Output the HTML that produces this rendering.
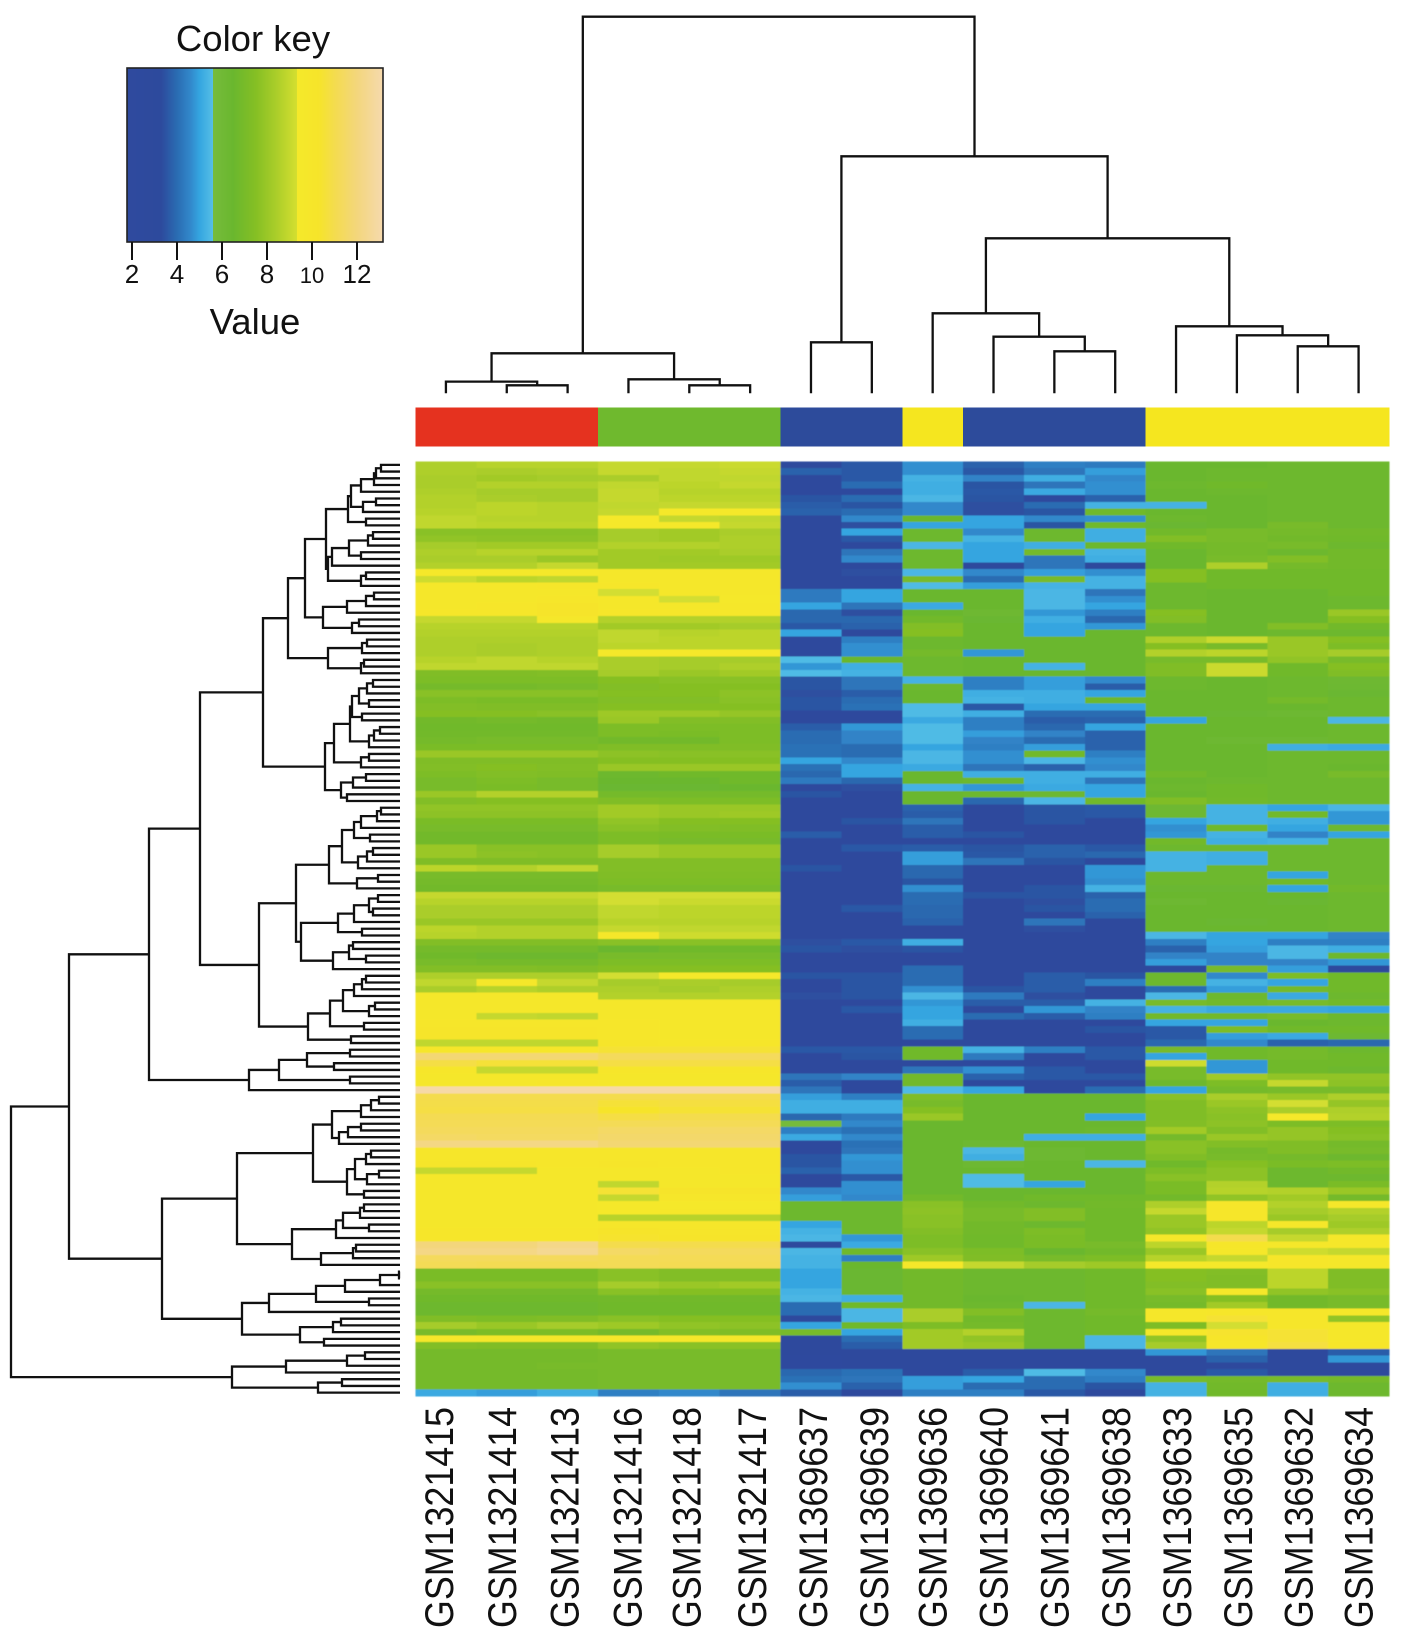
<!DOCTYPE html>
<html lang="en">
<head>
<meta charset="utf-8">
<title>Clustered expression heatmap</title>
<style>
html,body{margin:0;padding:0;background:#fff;width:1408px;height:1645px;overflow:hidden}
svg{display:block}
text{font-family:"Liberation Sans",sans-serif;fill:#111}
</style>
</head>
<body>
<svg id="chart" xmlns="http://www.w3.org/2000/svg" width="1408" height="1645" viewBox="0 0 1408 1645">
<defs><filter id="soft" x="-1%" y="-1%" width="102%" height="102%"><feGaussianBlur stdDeviation="0.6"/></filter></defs>
<rect width="1408" height="1645" fill="#fff"/>
<g id="key"></g>
<g id="topDendro"></g>
<g id="sideBar"></g>
<g id="leftDendro"></g>
<g id="cells" shape-rendering="crispEdges" filter="url(#soft)"></g>
<g id="labels"></g>
</svg>
<script>
const columnLabels = ["GSM1321415","GSM1321414","GSM1321413","GSM1321416","GSM1321418","GSM1321417","GSM1369637","GSM1369639","GSM1369636","GSM1369640","GSM1369641","GSM1369638","GSM1369633","GSM1369635","GSM1369632","GSM1369634"];
const columnGroups = [0,0,0,1,1,1,2,2,3,2,2,2,3,3,3,3];
const groupNames = ["red","green","blue","yellow"];
const keyTicks = [2,4,6,8,10,12];
const keyTitle = "Color key";
const keyAxisTitle = "Value";
const columnTree = [376.6,[40,[11.7,0,[8,0,0]],[14,0,[8,0,0]]],[237,[51,0,0],[155,[80,0,[56.6,0,[42,0,0]]],[67,0,[58,0,[47,0,0]]]]]];
const rowTree = [389,
 [331,
  [251,
   [200,
    [137,
     [112,
      [95,
       [74,
        [52,
         [49,[39,[26,[24,[19,0,0],0],0],0],[37,[24,0,0],0]],
         [34,0,0]],
        [72,
         [68,[51,[32,[27,0,0],0],[39,0,0]],0],
         [39,[34,0,0],0]]],
       [77,[53,[34,[26,0,0],0],0],[48,[41,0,0],0]]],
      [72,[38,[33,0,0],0],[39,[36,0,0],0]]],
     [75,
      [66,
       [50,[48,[41,[33,[27,0,0],0],[31,0,0]],[38,0,0]],[31,[26,[20,0,0],0],0]],
       [39,[31,0,0],0]],
      [59,[47,[34,0,0],0],[53,0,0]]]],
    [141,
     [104,
      [71,[58,[46,[39,[23,[19,0,0],0],0],[30,0,0]],[42,[33,[27,0,0],0],0]],[43,[22,0,0],0]],
      [99,[62,[46,[31,[22,0,0],[27,0,0]],0],[38,0,0]],[67,[51,[47,0,0],[34,0,0]],0]]],
     [92,[70,[57,[46,[38,[34,0,0],0],0],[31,[25,0,0],0]],[36,0,0]],[49,0,0]]]],
   [151,[121,[93,[50,0,0],[66,0,0]],[50,0,0]],0]],
  [238,
   [163,
    [87,
     [68,[39,[29,[21,0,0],0],0],[61,[52,[39,0,0],0],0]],
     [53,[45,[34,[29,0,0],0],[33,[21,0,0],0]],[36,0,0]]],
    [108,
     [64,[57,[40,[36,0,0],0],[31,0,0]],0],
     [79,[47,[44,0,0],0],0]]],
   [158,
    [131,[84,[55,[20,[1,0,0],0],0],[31,0,0]],0],
    [100,[67,[59,0,0],0],[76,0,0]]]]],
 [168,[114,[53,[35,0,0],0],0],[82,[58,0,0],0]]];
const heatmapValues = [
[8.5,8.7,8.7,9,9,9.1,3.3,3.6,4.7,3.8,4.4,4.3,6.5,6.5,6.6,6.6],
[8.5,8.4,8.5,9,8.9,9,3.8,3.6,4.7,3.6,4.2,4.9,6.5,6.6,6.6,6.6],
[8.4,8.2,8.3,8.4,8.9,8.9,3.2,3.6,5.3,4.5,5.2,4.6,6.5,6.6,6.6,6.6],
[8.4,8.6,8.6,8.9,8.8,9,3.2,4,5.2,3.5,4.2,4.7,6.6,6.7,6.6,6.6],
[8.5,8.3,8.3,9,8.7,8.7,3.1,3.2,5.2,3.6,5.1,4.7,6.5,6.6,6.6,6.6],
[8.6,8.4,8.3,9,8.8,8.8,3.5,4,5.4,3.5,3.1,3.8,6.5,6.5,6.6,6.6],
[8.6,8.8,8.7,8.9,9,9,3.7,3.5,4.6,3.4,4,5.3,5.3,6.5,6.6,6.6],
[8.7,8.8,8.7,9,9.5,9.5,3.8,4,4.6,3.4,3.5,6.7,6.5,6.5,6.6,6.6],
[8.9,8.7,8.7,9.6,9,8.9,3.2,4.6,6.5,5,4.6,4.7,6.6,6.5,6.6,6.6],
[8.9,8.8,8.8,9.6,9.6,9,3.2,3.4,5,5,3.5,6.7,6.4,6.5,7,6.6],
[7.6,7.6,7.6,8.3,8.2,8.4,3.2,5,6.6,4.6,6.6,5.2,6.8,7,6.9,6.8],
[7.8,7.7,7.7,8.3,8.2,8.5,3.2,3.6,6.6,5.3,6.6,5.2,7.4,7,6.8,6.7],
[8.3,8.2,8.2,8.6,8.6,8.5,3.2,3.2,5.4,5,5.2,6.6,6.7,6.9,7,6.6],
[8.5,8.7,8.7,8.2,8.2,8.4,3.2,4.2,6.6,5,6.9,5.3,6.5,6.9,6.6,6.8],
[8.4,8.4,8,8.2,8.1,8.1,3.3,4.6,6.6,5,4.2,5.2,6.5,7,7.4,6.8],
[8.6,8.6,9,8.2,8.2,8.2,3.2,3.2,6.6,3.2,4.2,3,6.5,8.5,6.9,6.8],
[9.5,9.5,9.5,9.7,9.7,9.7,3.1,3.4,5.4,4.6,4.9,4.7,7.5,6.7,6.7,6.7],
[9.2,8.8,8.9,9.7,9.7,9.7,3.1,3.1,7,4,7,5.3,7.5,6.7,6.7,6.7],
[9.8,9.8,9.9,9.9,9.8,9.8,3.1,3.2,5.5,4.9,5.3,5.3,6.6,6.7,6.7,6.7],
[9.8,9.8,9.8,9.3,9.8,9.8,4.3,5,6.5,6.5,5.4,4.2,6.6,6.5,6.5,6.7],
[9.8,9.8,9.9,9.7,9.3,9.5,4.3,5,6.5,6.5,5.4,4.7,6.6,6.5,6.5,6.6],
[9.8,10,10.3,9.7,9.7,9.7,5,4.2,5.1,6.5,5.4,5,6.6,6.5,6.5,6.6],
[10,10,10.3,9.9,9.9,9.8,3.9,3.4,6.5,6.2,4.8,4.4,7.5,6.5,6.5,8],
[9,9,9.8,8.6,8.6,8.6,3.9,3.9,6.8,6.4,5.2,3.9,7.4,6.5,6.5,7.5],
[8.7,8.7,8.7,8.2,8.2,8.3,3.6,3.8,7.4,6.5,5,4.8,6.6,6.5,7.4,6.8],
[8.6,8.6,8.6,8.9,8.7,8.8,5,3.2,7.5,6.5,5,6.5,6.6,6.5,6.6,6.6],
[8.5,8.5,8.5,8.9,8.8,8.8,3.2,4.4,6.6,6.5,6.5,6.5,8.5,9.1,8,7.5],
[8.5,8.4,8.5,8.8,8.8,8.8,3.2,4.7,6.6,6.5,6.5,6.5,7.5,7,8,7.2],
[8.5,8.4,8.5,9.6,9.6,9.6,3.2,4.7,6.9,4.8,6.5,6.5,8.6,8.8,8,8.3],
[8.7,8.9,8.7,8.4,8.3,8.3,5.5,6.5,6.6,6.5,6.5,6.5,7,7,7.8,7],
[8.9,8.9,8.9,8.4,8.3,8.5,4.8,5.2,6.6,6.5,5.3,6.5,7.3,9.1,6.7,7.5],
[7.3,7.3,7.4,8.3,8,8.2,5.5,5.3,6.6,6.5,6.5,6.5,7.3,9.1,6.7,7.3],
[7.2,7.2,7.2,7.5,7.6,7.6,3.5,4.2,5.3,4.4,4.9,4.6,6.6,6.5,6.6,6.2],
[6.9,6.9,7,7.4,7.5,7.5,3.5,4.2,6.6,4.4,4.9,3.7,6.6,6.5,6.6,6.3],
[7.6,7.6,7.6,7.5,7.5,7.7,3.4,3.7,6.5,5.2,5.2,5,6.5,6.5,6.6,6.4],
[7.2,7.1,7.1,7.4,7.4,7.6,3.5,4,6.5,5.3,5.2,6.6,6.5,6.5,6.9,6.6],
[7.4,7.3,7.3,7.5,7.5,7.5,3.5,4.1,5.5,3.6,5,5,6.5,6.5,6.5,6.6],
[7.5,7.5,7.6,8.1,8.1,7.9,3.3,3,5.5,5.2,4,4,6.5,6.4,6.3,6.6],
[6.8,6.9,6.8,8,7.4,7.4,3.1,3.1,5.1,4.4,3.7,3.8,5,6.5,6.5,5.4],
[6.7,6.7,6.7,7.2,7.2,7.2,3.7,4.8,5.5,4.4,3.9,5,6.5,6.5,6.5,6.6],
[6.8,6.8,6.8,7.2,7.1,7.2,4,4.5,5.5,4.9,4.5,3.8,6.5,6.5,6.5,6.6],
[6.9,7,7,6.8,6.8,7.2,4,4.5,5.5,4.5,4,3.8,6.5,6.3,6.3,6.6],
[7.1,7.1,7.1,7.3,7.3,7.3,4.1,4,5,4.4,4.9,3.8,6.5,6.5,5.2,5.1],
[8,8,8,7.7,7.6,7.6,4.1,4,5.4,4.7,6.8,4.4,6.5,6.5,6.6,6.6],
[7.3,7.3,7.3,7.5,7.5,7.5,5,4.6,5.4,4.7,5.4,4.7,6.5,6.5,6.6,6.6],
[7.4,7.5,7.4,8,8,8,4.1,5,5.1,4.2,3.8,4.6,6.5,6.5,6.6,6.5],
[7.2,7.4,7.3,6.6,6.7,6.7,3.9,5,6.5,5.2,5.2,5.2,6.8,6.5,6.6,7],
[7,7.2,7,6.5,6.5,6.7,4.3,3.9,6.5,6.6,5.2,4.2,6.5,6.6,6.6,6.6],
[7,7.1,7,6.4,6.4,6.5,3.2,3.4,5.3,4.8,5.1,5,6.6,6.7,6.6,6.6],
[8,8.6,8.6,6.9,6.9,6.9,3.5,3.1,6.5,6.6,6.3,5,6.5,6.7,6.6,6.6],
[7.4,7.5,7.5,7.3,7.2,7.2,3.1,3.1,6.5,3.9,5.4,6.8,7.3,6.8,6.6,6.6],
[7.8,7.8,7.8,8.2,8,8,3.1,3.1,3.8,3.3,3.5,3.6,6.2,5.3,5,5.4],
[7.7,7.7,7.7,8.2,8,8.1,3.1,3.1,3.7,3.3,3.5,3.6,6.2,5.3,6.8,4.8],
[7.1,7.1,7.1,7.8,7.5,7.5,3.1,3.5,4.2,3.3,3.5,3.2,5,5.3,5.2,4.8],
[7,7,7,7.6,7.4,7.3,3.1,3.1,3.7,3.3,3.1,3.3,4.7,6.7,5,6.3],
[6.8,6.8,6.8,7.2,7.1,7.1,3.7,3.1,3.7,3.5,3.3,3.1,4.8,5.3,4.5,5],
[6.8,6.8,6.8,7.2,7,7,3.3,3.2,3.3,3.2,3.3,3.1,6.8,5.2,5.3,6.6],
[8,7.6,7.6,8.3,8,8,3.2,3.6,3.7,3.5,3.8,3.6,6.6,6.6,6.6,6.6],
[8,7.7,7.6,8.3,8,8,3.2,3.2,4.9,3.6,3.8,3.9,5.3,5.2,6.6,6.6],
[7.3,7.3,7.3,7.4,7.4,7.4,3.2,3.3,4.9,4.2,3.5,3,5.3,5.2,6.6,6.6],
[8.8,8.6,8.9,7.4,7.4,7.4,3.5,3.2,3.9,3.3,3.3,4.8,5.3,6.6,6.6,6.6],
[7,7,7,7.3,7.3,7.3,3.2,3.2,3.9,3.3,3.3,4.8,6.6,6.6,5,6.6],
[6.9,6.9,6.9,7.2,7.2,7.2,3.2,3.3,3.5,3.2,3.3,4.7,6.6,6.6,6.8,6.6],
[6.8,6.8,6.8,7,7,7,3.2,3.3,4.7,3.2,3.5,5.3,6.4,6.4,5,6.8],
[9,9,9,9.3,9.3,9.3,3.2,3.3,4,3.5,3.5,3.8,6.5,6.5,6.5,6.6],
[8.7,8.7,8.7,9.3,9.1,9.1,3.2,3.3,4,3.3,3.4,4,6.3,6.5,6.4,6.6],
[8.4,8.4,8.4,8.9,8.8,8.8,3.2,3.6,3.9,3,3.5,4,6.5,6.5,6.5,6.6],
[8.4,8.4,8.4,8.9,8.8,8.8,3.2,3.2,3.9,3.1,3.2,3.8,6.5,6.5,6.5,6.6],
[8,8,8,8.7,8.7,8.7,3.2,3.3,3.8,3.1,4.2,3.1,6.5,6.4,6.5,6.6],
[8.8,8.6,8.6,9,8.9,8.9,3.2,3.2,3.2,3.1,3.4,3.3,6.5,6.5,6.5,6.6],
[8.7,8.6,8.6,9.7,9.2,9.2,3.2,3.2,3.2,3.1,3.2,3.1,5.4,5,5,4.5],
[7.4,7.4,7.4,7.6,7.6,7.6,3.4,3.6,5.2,3.1,3.2,3,4.4,5,4.4,4.4],
[6.9,6.9,6.9,6.5,6.7,6.7,3.5,3.4,3.5,3.1,3.1,3,3.8,4.9,5.4,5.2],
[6.7,6.6,6.6,7,7,7,3.1,3.1,3.2,3.1,3.1,3,4.5,4.5,5.4,6.6],
[7,6.9,6.9,7.2,7.2,7.2,3.1,3.1,3.2,3.1,3.1,3,4.9,4.5,4.5,4.8],
[7.4,7.4,7.3,7.5,7.5,7.5,3.1,3.1,4,3.1,3.1,3,3.3,7,4.9,3.3],
[8.5,8.5,8.5,9.3,9.5,9.5,3.5,3.5,4,3.2,3.7,3.5,6.6,4.6,7.2,6.7],
[8.9,9.7,9,8.3,8.4,8.3,3.1,3.5,4,3.3,3.7,4.4,6.6,5.3,5,6.7],
[8.4,8.7,8.5,8.5,8.3,8.5,3.3,3.5,4.7,3.5,3.7,3.3,4,4.9,6.9,6.7],
[9.7,9.7,9.7,8.6,8.6,8.6,3.4,3.5,5.4,4.3,3.4,3,5.4,6.6,5.1,6.6],
[9.8,9.8,9.8,9.8,9.8,9.8,3.2,3.2,4.8,3.7,3.7,5.3,7,6.8,7,6.8],
[9.8,9.8,9.8,9.8,9.7,9.7,3.2,3.6,5,3.3,4.8,4.5,5.3,5.1,5.1,5],
[9.8,9,8.9,9.8,9.7,9.7,3.2,3.2,5,4,3.7,4.4,6.8,6.8,7,6.6],
[10,10,10,9.9,9.8,9.8,3.3,3.2,5.2,3.1,3.1,3.1,5,5,6.5,6.6],
[10.2,10.2,10.2,9.9,9.8,9.8,3.1,3.1,4,3,3,3.5,3.6,7.2,6.7,6.7],
[10.1,10.1,10.1,10,9.8,9.8,3.1,3.1,4,3,3,3.1,3.6,4.9,5.1,6.3],
[8.9,8.9,8.9,10.1,9.9,9.9,3.1,3.1,3.3,3,3,3,3.9,4.6,3.8,3.9],
[10,10,10,10.5,10.5,10.5,3.6,3.6,6.7,5.3,4.4,3.6,7,6.7,6.9,6.6],
[11.8,11.8,11.8,11.3,11.3,11.3,3,3.5,6.7,4.3,3,3.6,5,6.7,6.9,6.7],
[10.8,10.6,10.6,10.8,10.8,10.8,3,3.2,3.2,3,3,3,9.2,4.8,6.7,6.7],
[9.9,9,9,10,10,10,3.1,3.2,4.2,4.7,3.6,3,7,4.8,6.7,6.6],
[9.8,9.8,9.8,9.8,9.8,9.8,4.2,4.5,6.8,3.8,3.6,3.6,7,8.2,7.8,7.8],
[9.8,9.8,9.9,9.8,9.8,9.8,3.7,3.3,6.8,3.3,3.1,3,6.6,7.2,9,7.7],
[13,13,13,13,13,13,4.2,3.3,5.5,5,3.2,4,5,6.9,7,7],
[11,11,11,11,11,11,4.9,4.4,7.3,6.5,6.5,6.5,7.6,8.4,8,8.5],
[10.9,10.9,10.9,10.6,10.7,10.7,5.2,5.2,7,6.5,6.5,6.5,7.3,8,9.3,7.9],
[10.8,10.8,10.8,10.3,10.5,10.5,5.2,5.2,7.5,6.5,6.5,6.5,7.3,7.7,8.4,8.5],
[11.1,11.1,11.1,10.8,11,11,3.9,4.3,8,6.5,6.5,5,7.3,7.6,9.6,8.6],
[11.2,11.2,11.2,11.2,11.2,11.2,5.7,4.6,6.5,6.5,6.5,6.5,7.4,7.7,7.2,7.2],
[11.3,11.3,11.3,11.5,11.5,11.5,4.4,4.1,6.5,6.5,6.5,6.6,8.2,7.4,7.9,7.5],
[11.5,11.4,11.4,11.6,11.6,11.6,5.1,4.6,6.5,6.5,5.2,5.2,6.9,8,7.9,7.6],
[12.2,12.2,12.2,11.8,11.8,11.8,3.2,4.1,6.5,6.3,6.5,6.5,7.6,7.4,7.3,6.9],
[9.9,9.9,9.9,10,10,10,3.2,4.2,6.5,5.4,6.3,6.5,7.6,6.9,7.3,7],
[9.9,9.9,9.9,10,10,10,3.5,4.8,6.5,5.2,6.3,6.5,7.3,7,6.9,6.6],
[10.2,10.1,10,10.2,10,10,3.5,4.7,6.5,6.3,6.5,5.4,6.7,7.5,7.1,7.2],
[9,9,9.8,9.8,9.8,9.9,3.8,4.7,6.5,6.5,6.5,6.5,7.2,7.7,6.6,6.8],
[9.7,9.7,9.7,9.8,9.8,9.7,3.2,3.6,6.5,5.5,6.5,6.5,7.6,7.7,6.6,6.6],
[9.8,9.8,9.8,8.9,9.7,9.7,3.3,4.7,6.5,5.5,5,6.5,7.1,8.6,6.6,7.1],
[9.8,9.8,9.8,10.5,10.3,10.3,4.6,4.7,6.5,6.5,6.5,6.5,7.1,8.7,8.6,8],
[9.8,9.8,9.8,9,10,10,4.9,4.6,6.8,6.5,6.7,6.7,6.8,7.8,8.2,6.9],
[9.7,9.7,9.7,9.6,9.5,9.5,6.6,6.6,7.6,6.8,6.6,6.8,8.5,10,8.6,9.7],
[9.7,9.8,9.8,9.6,9.7,9.7,6.6,6.6,7.7,7,7.4,6.7,9,10,8.3,8.6],
[9.8,9.8,9.8,8.7,8.7,8.7,6.6,6.6,7.6,7,7.4,6.7,8,10,8,8.3],
[9.8,9.8,9.8,10,10,10,5,6.6,7.6,6.8,6.6,6.7,8,8.8,9.7,8.1],
[9.9,9.9,9.9,10.3,10.2,10.2,5.3,6.6,7.4,6.8,7.2,6.7,7.8,9,8.3,8.5],
[10,10,10,10.4,10.3,10.3,5.4,4.8,7.2,6.7,7.1,6.7,9.7,11,9,9.7],
[12,12,12.3,11,11,11,3.3,5.1,7.2,6.7,7.1,7,8.8,10,9.7,9.8],
[12.2,12.2,12.5,11.5,11.3,11.3,5.4,6.7,7.6,7.2,6.5,6.8,8,9.8,9.2,9],
[11.3,11.3,11.3,11.2,11.2,11.2,5.3,4.4,8.1,7.3,7,7.2,8.7,9,10,9.8],
[11.2,11.1,11.1,11.2,11.1,11.1,5.3,6.5,9.7,9,8.3,8.1,9.6,9.5,10,9.8],
[7.1,7.1,7.1,7.6,7.4,7.4,5,6.4,6.8,6.6,6.6,6.7,7.5,7.4,8.8,7.3],
[7.1,7.1,7.1,7.6,7.4,7.4,5,6.4,6.8,6.6,6.6,6.7,7.5,7.3,8.8,7.3],
[7.6,7.6,7.6,8.3,8,8.2,5,6.4,6.8,6.6,6.6,6.7,7.4,7.3,8.8,7.3],
[6.9,6.9,6.9,7.6,7.5,7.5,5.3,6.4,6.8,6.6,6.6,6.7,7.6,9.7,7.8,7.6],
[6.7,6.7,6.7,6.8,6.8,6.8,5.4,5.2,6.8,6.5,6.6,6.7,7,7.5,6.8,7],
[6.6,6.6,6.6,6.7,6.7,6.7,4,6.7,6.8,6.6,5.4,6.7,6.9,8.2,6.8,7],
[6.6,6.6,6.6,6.7,6.7,6.7,4,5.4,8.4,7.4,6.6,6.9,9.7,10,10,9.7],
[7.3,7.2,7.3,7.6,7.5,7.5,3.2,5.4,8.4,6.8,6.6,6.7,9.7,10.5,10,7.8],
[8.3,8,8.3,8.1,7.8,7.7,5,6.7,7.2,6.9,6.6,6.7,7.2,9.3,10,9.8],
[7,7.2,7.2,6.9,7.4,7.3,7,5,8.2,8.6,6.6,6.7,9.7,10.4,10.5,9.8],
[9.8,9.8,9.8,9.8,9.8,9.8,3,4,8.2,7.8,6.6,5.4,7.8,10.2,10.5,9.8],
[7.4,7.3,7.3,7.8,7.6,7.6,3,3.7,8.2,8,6.6,5.4,8.3,10,10.7,9.9],
[6.9,6.9,6.9,7,7,7,3,3,3,3,3,3,4.8,4.2,3.3,3.7],
[6.9,6.9,6.9,7,7,7,2.5,3,3,3,3,3,3.3,3.8,3.3,4.8],
[6.9,6.9,7,7,7,7,2.5,3,3,3,3,3,3.3,3.2,3.2,3],
[6.9,6.9,6.9,7,7,7,3.9,4.1,3.2,3.7,5.5,4.6,3.3,3.6,3.2,3],
[6.9,6.9,6.9,7,7,7,4.1,4.2,4.9,5,4,4.4,7,6.9,7,6.9],
[6.9,6.9,6.9,7,7,7,4.7,3.8,4.9,4,4,3.5,5.3,6.8,5.2,6.6],
[5.1,4.9,5.2,4.4,4.6,4.2,3.7,3.1,4.4,4.4,3.6,3.3,5.3,6.7,5.2,6.6]
];

const colorStops = [[1.8,"#2f4a9e"],[3.3,"#2d4a9d"],[4,"#2a6cb2"],[4.6,"#3288cb"],[5,"#34a5e0"],[5.6,"#56bfe6"],[5.6,"#76bb3c"],[6.5,"#6ab72e"],[7.5,"#85bf24"],[8.5,"#aecf2a"],[9.35,"#d5df30"],[9.35,"#f5e92a"],[10.3,"#f6e42a"],[11,"#f4dc4e"],[12,"#f3d67c"],[13.2,"#f6dab0"]];
const groupColors = ["#e5321f","#6fb92e","#2d4b9b","#f5e61f"];

const NS = "http://www.w3.org/2000/svg";
const PLOT = {left:415.5, right:1389, top:461.5, bottom:1396};
const columnWidth = (PLOT.right - PLOT.left) / columnLabels.length;
const rowHeight = (PLOT.bottom - PLOT.top) / heatmapValues.length;
const xCol = i => PLOT.left + columnWidth * i;
const yRow = i => PLOT.top + rowHeight * i;
const keyX = v => 132 + (v - 2) * 22.5;
const rowDist = h => 400 - h;
const colDist = h => 393.3 - h;
const labelNudge = c => [-7,-5,-3,-1,-3,2,2,2,0,0,0,1,1,1,1,0][c];

function hex(c){return [1,3,5].map(i=>parseInt(c.substr(i,2),16));}
function colorFor(v){
  if(v<=colorStops[0][0]) return colorStops[0][1];
  for(let i=1;i<colorStops.length;i++){
    const a=colorStops[i-1], b=colorStops[i];
    if(v<b[0]){
      const t=(v-a[0])/((b[0]-a[0])||1), A=hex(a[1]), B=hex(b[1]);
      return "rgb("+A.map((x,k)=>Math.round(x+(B[k]-x)*t)).join(",")+")";
    }
  }
  return colorStops[colorStops.length-1][1];
}
function make(tag,attrs,parent){
  const el=document.createElementNS(NS,tag);
  for(const k in attrs) el.setAttribute(k,attrs[k]);
  parent.appendChild(el);
  return el;
}

/* heatmap cells */
const cellsG=document.getElementById("cells");
heatmapValues.forEach((row,r)=>{
  row.forEach((v,c)=>{
    const el=make("rect",{x:xCol(c).toFixed(2),y:yRow(r).toFixed(2),width:(columnWidth+.4).toFixed(2),height:(rowHeight+.4).toFixed(2),fill:colorFor(v)},cellsG);
    
    
  });
});

/* sample group bar */
const sideG=document.getElementById("sideBar");
columnGroups.forEach((g,c)=>{
  const el=make("rect",{x:xCol(c).toFixed(2),y:407.3,width:(columnWidth+.4).toFixed(2),height:39.4,fill:groupColors[g],"shape-rendering":"crispEdges"},sideG);
  
  
});

/* dendrograms */
function drawTree(tree,parent,leafPos,heightPos,horizontal,name){
  let leaf=0;
  function walk(node){
    if(node===0){return {p:leafPos(leaf++),h:0};}
    const a=walk(node[1]), b=walk(node[2]), h=node[0];
    const d=horizontal
      ? `M${heightPos(a.h)} ${a.p}H${heightPos(h)}V${b.p}H${heightPos(b.h)}`
      : `M${a.p} ${heightPos(a.h)}V${heightPos(h)}H${b.p}V${heightPos(b.h)}`;
    const el=make("path",{d:d,fill:"none",stroke:"#111","stroke-width":2.3,"stroke-linejoin":"miter"},parent);
    
    
    return {p:(a.p+b.p)/2,h:h};
  }
  walk(tree);
}
drawTree(rowTree,document.getElementById("leftDendro"),i=>yRow(i+.5),rowDist,true,"row-dendrogram-branch");
drawTree(columnTree,document.getElementById("topDendro"),i=>xCol(i+.5),colDist,false,"column-dendrogram-branch");

/* column labels */
const labelsG=document.getElementById("labels");
columnLabels.forEach((t,c)=>{
  const x=xCol(c+.5)+14+labelNudge(c);
  const el=make("text",{transform:`translate(${x.toFixed(1)} 1628) rotate(-90)`,"font-size":40,textLength:221,lengthAdjust:"spacingAndGlyphs"},labelsG);
  el.textContent=t;
  
  
});

/* color key */
const keyG=document.getElementById("key");
const keyLeft=127, keyRight=383, keyTop=68, keyBottom=242;
for(let px=keyLeft;px<keyRight;px++){
  const v=2+(px+.5-132)/22.5;
  const el=make("rect",{x:px,y:keyTop,width:1.2,height:keyBottom-keyTop,fill:colorFor(v),"shape-rendering":"crispEdges"},keyG);
  
  
}
const keyFrame=make("rect",{x:keyLeft,y:keyTop,width:keyRight-keyLeft,height:keyBottom-keyTop,fill:"none",stroke:"#222","stroke-width":1.6},keyG);


keyTicks.forEach(v=>{
  const tick=make("line",{x1:keyX(v),x2:keyX(v),y1:keyBottom,y2:260,stroke:"#111","stroke-width":2},keyG);
  
  
  const lab=make("text",{x:keyX(v),y:283,"text-anchor":"middle","font-size":v===10?22:26},keyG);
  lab.textContent=String(v);
  
  
});
const kt=make("text",{x:253,y:51,"text-anchor":"middle","font-size":36.5},keyG);
kt.textContent=keyTitle;


const ka=make("text",{x:255,y:334,"text-anchor":"middle","font-size":36.5},keyG);
ka.textContent=keyAxisTitle;


</script>
</body>
</html>
